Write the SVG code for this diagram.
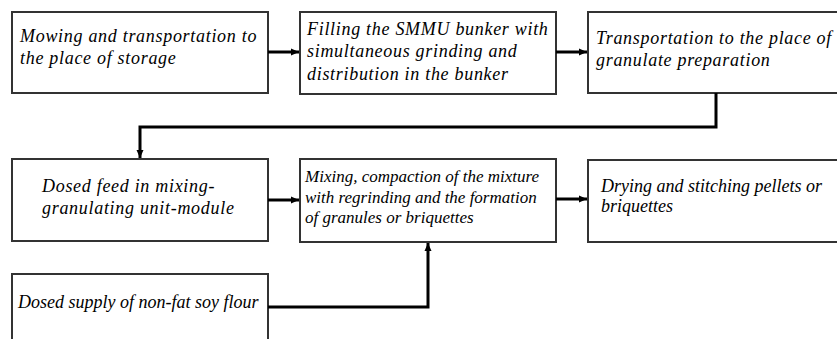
<svg xmlns="http://www.w3.org/2000/svg" width="837" height="339" viewBox="0 0 837 339">
<defs>
<marker id="ah" markerUnits="userSpaceOnUse" markerWidth="10" markerHeight="10" refX="8" refY="4" orient="auto">
<path d="M0,0.5 L8,4 L0,7.5 Z" fill="#000"/>
</marker>
</defs>
<rect width="837" height="339" fill="#fff"/>
<g id="n1"><rect fill="#fff" stroke="#333" stroke-width="2" x="12" y="12" width="256" height="81"/>
<text x="20" y="42" font-family="Liberation Serif" font-style="italic" font-size="18" letter-spacing="0.7">Mowing and transportation to</text>
<text x="20" y="64" font-family="Liberation Serif" font-style="italic" font-size="18" letter-spacing="0.7">the place of storage</text></g>
<g id="n2"><rect fill="#fff" stroke="#333" stroke-width="2" x="300" y="12" width="256" height="82"/>
<text x="307" y="35" font-family="Liberation Serif" font-style="italic" font-size="18" letter-spacing="0.7">Filling the SMMU bunker with</text>
<text x="307" y="57" font-family="Liberation Serif" font-style="italic" font-size="18" letter-spacing="0.7">simultaneous grinding and</text>
<text x="307" y="80" font-family="Liberation Serif" font-style="italic" font-size="18" letter-spacing="0.7">distribution in the bunker</text></g>
<g id="n3"><rect fill="#fff" stroke="#333" stroke-width="2" x="588" y="12" width="260" height="81"/>
<text x="596" y="44" font-family="Liberation Serif" font-style="italic" font-size="18" letter-spacing="0.7">Transportation to the place of</text>
<text x="596" y="66" font-family="Liberation Serif" font-style="italic" font-size="18" letter-spacing="0.7">granulate preparation</text></g>
<g id="n4"><rect fill="#fff" stroke="#333" stroke-width="2" x="12" y="159" width="256" height="82"/>
<text x="42" y="192" font-family="Liberation Serif" font-style="italic" font-size="18" letter-spacing="0.7">Dosed feed in mixing-</text>
<text x="42" y="214" font-family="Liberation Serif" font-style="italic" font-size="18" letter-spacing="0.7">granulating unit-module</text></g>
<g id="n5"><rect fill="#fff" stroke="#333" stroke-width="2" x="300" y="159" width="256" height="83"/>
<text x="305" y="182" font-family="Liberation Serif" font-style="italic" font-size="17">Mixing, compaction of the mixture</text>
<text x="305" y="203" font-family="Liberation Serif" font-style="italic" font-size="17">with regrinding and the formation</text>
<text x="305" y="223" font-family="Liberation Serif" font-style="italic" font-size="17">of granules or briquettes</text></g>
<g id="n6"><rect fill="#fff" stroke="#333" stroke-width="2" x="588" y="160" width="260" height="82"/>
<text x="601" y="192" font-family="Liberation Serif" font-style="italic" font-size="18">Drying and stitching pellets or</text>
<text x="601" y="212" font-family="Liberation Serif" font-style="italic" font-size="18">briquettes</text></g>
<g id="n7"><rect fill="#fff" stroke="#333" stroke-width="2" x="12" y="274" width="256" height="80"/>
<text x="18" y="308" font-family="Liberation Serif" font-style="italic" font-size="18">Dosed supply of non-fat soy flour</text></g>
<g id="connectors" fill="none" stroke="#000" stroke-width="3">
<path d="M268,52 H299" marker-end="url(#ah)"/>
<path d="M556,52 H587" marker-end="url(#ah)"/>
<path d="M716,93 V127 H140 V158" marker-end="url(#ah)"/>
<path d="M268,200 H299" marker-end="url(#ah)"/>
<path d="M556,199 H587" marker-end="url(#ah)"/>
<path d="M268,307 H428 V243" marker-end="url(#ah)"/>
</g>
</svg>
